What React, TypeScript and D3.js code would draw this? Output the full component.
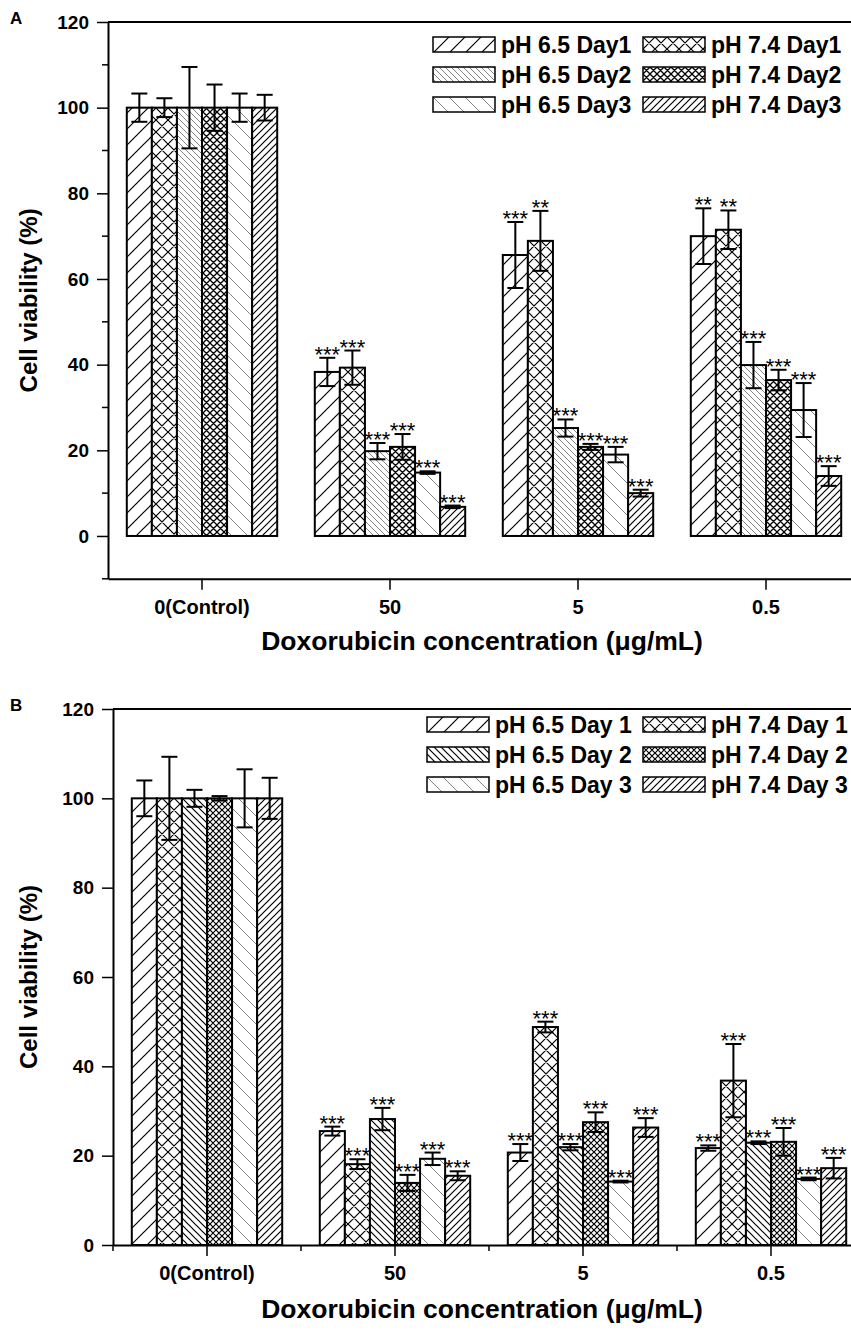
import * as d3 from 'd3';
import { useEffect, useRef } from 'react';

const groups = ['0(Control)', '50', '5', '0.5'];

const seriesA = ['pH 6.5 Day1', 'pH 7.4 Day1', 'pH 6.5 Day2', 'pH 7.4 Day2', 'pH 6.5 Day3', 'pH 7.4 Day3'];
const seriesB = ['pH 6.5 Day 1', 'pH 7.4 Day 1', 'pH 6.5 Day 2', 'pH 7.4 Day 2', 'pH 6.5 Day 3', 'pH 7.4 Day 3'];

// one row per series, one value per concentration group
const meanA = [
  [100, 38.3, 65.6, 70],
  [100, 39.3, 68.9, 71.5],
  [100, 19.8, 25.2, 39.9],
  [100, 20.8, 20.8, 36.4],
  [100, 14.8, 19, 29.4],
  [100, 6.8, 10, 14],
];
const errA = [
  [3.3, 3.3, 7.7, 6.5],
  [2.2, 4, 7, 4.5],
  [9.5, 1.9, 2, 5.4],
  [5.4, 3, 0.7, 2.4],
  [3.3, 0.3, 1.8, 6.3],
  [3, 0.3, 0.8, 2.3],
];
const starsA = [
  ['', '***', '***', '**'],
  ['', '***', '**', '**'],
  ['', '***', '***', '***'],
  ['', '***', '***', '***'],
  ['', '***', '***', '***'],
  ['', '***', '***', '***'],
];

const meanB = [
  [100, 25.5, 20.7, 21.7],
  [100, 18.1, 48.8, 36.8],
  [100, 28.2, 21.9, 22.9],
  [100, 13.9, 27.5, 23.1],
  [100, 19.3, 14.2, 14.8],
  [100, 15.5, 26.3, 17.2],
];
const errB = [
  [4, 1, 1.9, 0.6],
  [9.3, 1.1, 1.2, 8.2],
  [1.9, 2.5, 0.7, 0.3],
  [0.5, 1.8, 2.2, 3.1],
  [6.5, 1.4, 0.2, 0.3],
  [4.6, 1, 2.1, 2.3],
];
const starsB = [
  ['', '***', '***', '***'],
  ['', '***', '***', '***'],
  ['', '***', '***', '***'],
  ['', '***', '***', '***'],
  ['', '***', '***', '***'],
  ['', '***', '***', '***'],
];

const yMajor = [0, 20, 40, 60, 80, 100, 120];

type Hatch = { kind: 'fwd' | 'back' | 'cross'; size: number; color: string; width: number };

const hatchA: Hatch[] = [
  { kind: 'fwd', size: 16, color: '#000', width: 1.2 },
  { kind: 'cross', size: 12, color: '#000', width: 1.2 },
  { kind: 'back', size: 6, color: '#666', width: 0.8 },
  { kind: 'cross', size: 7, color: '#000', width: 1.3 },
  { kind: 'back', size: 16, color: '#777', width: 0.9 },
  { kind: 'fwd', size: 7, color: '#000', width: 1.2 },
];
const hatchB: Hatch[] = [
  { kind: 'fwd', size: 16, color: '#000', width: 1.2 },
  { kind: 'cross', size: 12, color: '#000', width: 1.2 },
  { kind: 'back', size: 7, color: '#000', width: 1.2 },
  { kind: 'cross', size: 6, color: '#000', width: 1.2 },
  { kind: 'back', size: 16, color: '#777', width: 0.9 },
  { kind: 'fwd', size: 7, color: '#000', width: 1.2 },
];

const FONT = 'Liberation Sans, Arial, Helvetica, sans-serif';

interface PanelCfg {
  id: string;
  letter: string;
  series: string[];
  mean: number[][];
  err: number[][];
  stars: string[][];
  hatch: Hatch[];
  left: number;
  top: number;
  bottom: number;
  yMin: number;
  yMinor: boolean;
  xMinor: boolean;
  legendX: number;
  legendY: number;
  titleY: number;
}

const panels: PanelCfg[] = [
  {
    id: 'a', letter: 'A', series: seriesA, mean: meanA, err: errA, stars: starsA, hatch: hatchA,
    left: 108, top: 22, bottom: 578.8, yMin: -10, yMinor: true, xMinor: false,
    legendX: 433, legendY: 37, titleY: 650,
  },
  {
    id: 'b', letter: 'B', series: seriesB, mean: meanB, err: errB, stars: starsB, hatch: hatchB,
    left: 113, top: 709, bottom: 1245, yMin: 0, yMinor: false, xMinor: true,
    legendX: 427, legendY: 717, titleY: 1318,
  },
];

function hatchPath(h: Hatch) {
  const s = h.size;
  const fwd = `M0,${s} L${s},0 M-2,2 L2,-2 M${s - 2},${s + 2} L${s + 2},${s - 2}`;
  const back = `M0,0 L${s},${s} M-2,${s - 2} L2,${s + 2} M${s - 2},-2 L${s + 2},2`;
  if (h.kind === 'fwd') return fwd;
  if (h.kind === 'back') return back;
  return fwd + ' ' + back;
}

function drawPanel(svg: d3.Selection<SVGSVGElement, unknown, null, undefined>, p: PanelCfg) {
  const defs = svg.append('defs');
  p.hatch.forEach((h, i) => {
    const pat = defs
      .append('pattern')
      .attr('id', `${p.id}-h${i}`)
      .attr('patternUnits', 'userSpaceOnUse')
      .attr('width', h.size)
      .attr('height', h.size);
    pat.append('rect').attr('width', h.size).attr('height', h.size).attr('fill', '#fff');
    pat
      .append('path')
      .attr('d', hatchPath(h))
      .attr('stroke', h.color)
      .attr('stroke-width', h.width)
      .attr('fill', 'none');
  });

  const right = p.left + 752;
  const y = d3.scaleLinear().domain([p.yMin, 120]).range([p.bottom, p.top]);
  const x0 = d3.scaleBand<string>().domain(groups).range([p.left, right]).paddingInner(0.2).paddingOuter(0.1);
  const x1 = d3.scaleBand<string>().domain(p.series).range([0, x0.bandwidth()]);

  const g = svg.append('g');

  // bars
  p.series.forEach((s, si) => {
    groups.forEach((grp, gi) => {
      const m = p.mean[si][gi];
      const bx = x0(grp)! + x1(s)!;
      g.append('rect')
        .attr('x', bx)
        .attr('y', y(m))
        .attr('width', x1.bandwidth())
        .attr('height', y(0) - y(m))
        .attr('fill', `url(#${p.id}-h${si})`)
        .attr('stroke', '#000')
        .attr('stroke-width', 2);
    });
  });

  // error bars + significance
  p.series.forEach((s, si) => {
    groups.forEach((grp, gi) => {
      const m = p.mean[si][gi];
      const e = p.err[si][gi];
      const cx = x0(grp)! + x1(s)! + x1.bandwidth() / 2;
      const eb = g.append('g').attr('stroke', '#000').attr('stroke-width', 2);
      eb.append('line').attr('x1', cx).attr('x2', cx).attr('y1', y(m + e)).attr('y2', y(m - e));
      [m + e, m - e].forEach((v) => {
        eb.append('line').attr('x1', cx - 8).attr('x2', cx + 8).attr('y1', y(v)).attr('y2', y(v));
      });
      const st = p.stars[si][gi];
      if (st) {
        g.append('text')
          .attr('x', cx)
          .attr('y', y(m + e) + 4)
          .attr('text-anchor', 'middle')
          .attr('font-family', FONT)
          .attr('font-size', 22)
          .attr('fill', '#000')
          .text(st);
      }
    });
  });

  // frame top line
  svg.append('line')
    .attr('x1', p.left).attr('x2', right)
    .attr('y1', p.top).attr('y2', p.top)
    .attr('stroke', '#000').attr('stroke-width', 2);

  // y axis
  const yAxis = svg
    .append('g')
    .attr('transform', `translate(${p.left},0)`)
    .call(d3.axisLeft(y).tickValues(yMajor).tickSize(11).tickSizeOuter(0).tickPadding(8));
  yAxis.select('.domain').attr('stroke-width', 2);
  yAxis.selectAll('.tick line').attr('stroke-width', 1.5);
  yAxis.selectAll('text')
    .attr('font-family', FONT).attr('font-weight', 'bold').attr('font-size', 19).attr('fill', '#000');
  if (p.yMinor) {
    yAxis.selectAll('line.minor')
      .data(d3.range(-10, 121, 20))
      .join('line')
      .attr('class', 'minor')
      .attr('x1', -6).attr('x2', 0)
      .attr('y1', (d) => y(d)).attr('y2', (d) => y(d))
      .attr('stroke', '#000').attr('stroke-width', 1.5);
  }

  // x axis
  const xAxis = svg
    .append('g')
    .attr('transform', `translate(0,${p.bottom})`)
    .call(d3.axisBottom(x0).tickSize(11).tickSizeOuter(0).tickPadding(10));
  xAxis.select('.domain').attr('stroke-width', 2);
  xAxis.selectAll('.tick line').attr('stroke-width', 1.5);
  xAxis.selectAll('text')
    .attr('font-family', FONT).attr('font-weight', 'bold').attr('font-size', 20).attr('fill', '#000');
  if (p.xMinor) {
    xAxis.selectAll('line.minor')
      .data(d3.range(groups.length + 1))
      .join('line')
      .attr('class', 'minor')
      .attr('x1', (d) => p.left + d * x0.step()).attr('x2', (d) => p.left + d * x0.step())
      .attr('y1', 0).attr('y2', 6)
      .attr('stroke', '#000').attr('stroke-width', 1.5);
  }

  // titles
  svg.append('text')
    .attr('x', 482)
    .attr('y', p.titleY)
    .attr('text-anchor', 'middle')
    .attr('font-family', FONT).attr('font-weight', 'bold').attr('font-size', 26.5)
    .text('Doxorubicin concentration (\u03bcg/mL)');

  svg.append('text')
    .attr('transform', `translate(37,${(p.top + p.bottom) / 2}) rotate(-90)`)
    .attr('text-anchor', 'middle')
    .attr('font-family', FONT).attr('font-weight', 'bold').attr('font-size', 24)
    .text('Cell viability (%)');

  svg.append('text')
    .attr('x', 10).attr('y', p.top + 2)
    .attr('font-family', FONT).attr('font-weight', 'bold').attr('font-size', 17)
    .text(p.letter);

  // legend: 2 columns x 3 rows
  const leg = svg.append('g').attr('transform', `translate(${p.legendX},${p.legendY})`);
  p.series.forEach((s, si) => {
    const col = si % 2;
    const row = Math.floor(si / 2);
    const lx = col === 0 ? 0 : 643 - p.legendX;
    const item = leg.append('g').attr('transform', `translate(${lx},${row * 30})`);
    item.append('rect')
      .attr('width', 62).attr('height', 15)
      .attr('fill', `url(#${p.id}-h${si})`)
      .attr('stroke', '#000').attr('stroke-width', 1.5);
    item.append('text')
      .attr('x', 68).attr('y', 16)
      .attr('font-family', FONT).attr('font-weight', 'bold').attr('font-size', 23)
      .text(s);
  });
}

export default function App() {
  const ref = useRef<SVGSVGElement | null>(null);

  useEffect(() => {
    if (!ref.current) return;
    const svg = d3.select(ref.current);
    svg.selectAll('*').remove();
    svg.append('rect').attr('width', 851).attr('height', 1330).attr('fill', '#fff');
    panels.forEach((p) => drawPanel(svg, p));
  }, []);

  return (
    <svg
      ref={ref}
      width={851}
      height={1330}
      style={{ position: 'absolute', left: 0, top: 0, display: 'block' }}
    />
  );
}
